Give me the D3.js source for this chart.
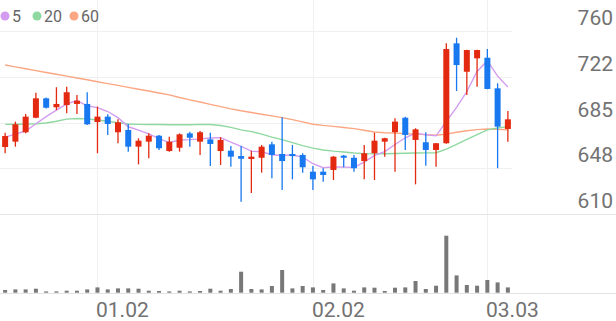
<!DOCTYPE html>
<html>
<head>
<meta charset="utf-8">
<script src="https://cdn.jsdelivr.net/npm/d3@7"></script>
<style>
	html, body { margin: 0; padding: 0; background: #fff; }
	svg { display: block; font-family: Roboto, "Noto Sans", sans-serif; }
</style>
</head>
<body>
<svg id="chart" width="616" height="321"></svg>
<script>
// daily candles, oldest first
var open = [664.9, 669.3, 677.0, 688.9, 704.8, 697.5, 699.3, 700.2, 700.2, 685.4, 689.8, 677.0, 678.9, 665.2, 669.3, 674.2, 661.6, 664.3, 676.1, 669.3, 671.2, 661.6, 661.9, 657.5, 655.1, 656.1, 667.1, 659.2, 659.2, 658.4, 644.7, 644.7, 646.1, 657.8, 656.1, 653.4, 659.8, 669.3, 677.0, 688.9, 670.7, 668.8, 662.5, 668.0, 749.9, 726.6, 737.6, 738.1, 713.0, 679.7];
var high = [676.6, 685.7, 692.0, 709.4, 705.5, 713.9, 714.3, 707.5, 709.8, 698.0, 691.7, 687.6, 683.8, 672.1, 676.1, 674.8, 673.4, 676.1, 677.5, 678.0, 676.6, 672.9, 665.7, 665.7, 661.9, 666.6, 669.3, 689.3, 666.6, 659.8, 649.3, 647.5, 657.5, 658.4, 658.4, 666.6, 676.6, 672.6, 688.4, 689.8, 680.3, 677.0, 668.2, 749.9, 754.5, 744.6, 744.6, 745.2, 717.1, 694.4];
var low = [659.8, 665.2, 676.1, 688.4, 696.5, 695.2, 692.5, 692.0, 683.0, 659.8, 674.8, 668.0, 661.1, 650.7, 655.7, 662.5, 661.1, 661.1, 665.2, 658.4, 649.3, 650.2, 648.8, 620.1, 627.2, 643.9, 639.3, 629.7, 638.4, 643.9, 629.7, 636.5, 637.9, 648.3, 644.7, 638.4, 637.9, 657.0, 644.7, 662.5, 634.3, 649.6, 648.8, 667.5, 710.8, 707.5, 714.3, 712.3, 647.5, 669.3];
var close = [673.9, 683.5, 689.8, 704.8, 697.1, 700.2, 709.8, 702.9, 683.5, 689.8, 683.8, 685.2, 665.2, 670.1, 674.2, 663.9, 669.3, 675.3, 672.5, 677.0, 667.4, 670.7, 657.0, 655.3, 657.0, 665.2, 658.4, 653.4, 657.5, 648.3, 638.4, 642.0, 657.0, 656.1, 647.5, 659.8, 670.1, 672.1, 685.7, 674.8, 679.4, 662.5, 668.0, 745.2, 732.1, 744.4, 744.4, 712.5, 681.6, 687.6];
var volume = [27, 33, 33, 40, 13, 13, 20, 20, 33, 53, 33, 43, 43, 40, 20, 17, 13, 20, 13, 17, 40, 20, 37, 210, 37, 33, 67, 227, 43, 67, 53, 27, 93, 43, 20, 53, 50, 17, 50, 53, 117, 37, 70, 570, 173, 77, 70, 127, 103, 53];

// moving averages as drawn
var ma5 = [673.0, 675.5, 678.0, 684.0, 689.8, 695.1, 700.3, 703.0, 698.7, 697.2, 694.0, 689.0, 681.5, 678.8, 675.7, 671.7, 668.5, 670.6, 671.0, 671.6, 672.3, 672.6, 668.9, 665.5, 661.5, 661.0, 658.6, 657.9, 658.3, 656.6, 651.2, 647.9, 648.6, 648.4, 648.2, 652.5, 658.1, 661.1, 667.0, 672.5, 676.4, 674.9, 674.1, 686.0, 697.4, 710.4, 726.8, 735.7, 723.0, 714.1];
var ma20 = [683.5, 683.6, 683.8, 684.0, 684.6, 686.0, 687.8, 688.3, 688.0, 687.0, 686.0, 684.8, 683.8, 683.5, 683.4, 683.3, 683.2, 683.1, 683.2, 683.5, 683.3, 682.5, 681.0, 679.0, 677.5, 675.5, 673.0, 671.0, 668.5, 666.0, 664.0, 662.5, 661.5, 660.8, 660.0, 659.5, 659.3, 659.4, 659.6, 659.8, 660.0, 660.1, 660.2, 663.2, 667.1, 671.1, 675.1, 679.0, 680.5, 681.6];
var ma60 = [732.1, 730.6, 729.1, 727.5, 726.0, 724.5, 723.0, 721.5, 720.0, 718.4, 716.9, 715.4, 713.8, 712.3, 710.8, 709.2, 707.6, 705.5, 703.6, 701.8, 699.9, 698.0, 696.2, 694.6, 693.2, 691.8, 690.4, 689.0, 687.4, 685.5, 683.6, 682.6, 681.8, 680.9, 680.0, 678.7, 677.2, 676.6, 676.3, 675.9, 675.5, 675.1, 674.6, 675.5, 677.0, 678.2, 679.2, 679.7, 679.4, 679.0];

var maNames = ["5", "20", "60"];
var maColours = ["#d49cf0", "#8fd9a1", "#fba783"];

var yTicks = [760, 722.5, 685, 647.5, 610];
var yTickLabels = ["760", "722", "685", "648", "610"];
var xTickIdx = [9, 30, 47];
var xTickLabels = ["01.02", "02.02", "03.03"];

var upColour = "#e3290f";
var downColour = "#1878ef";

var svg = d3.select("#chart");
var W = 616, H = 321;
var plotRight = 512;

var idx = d3.range(close.length);

var x = d3.scaleBand()
	.domain(idx)
	.range([0, 513])
	.padding(0);

var cx = function(i) { return x(i) + x.bandwidth() / 2; };

var y = d3.scaleLinear()
	.domain([610, 760])
	.range([214, 31]);

var yv = d3.scaleLinear()
	.domain([0, d3.max(volume)])
	.range([292.7, 235.7]);

// grid
var grid = svg.append("g");

grid.selectAll(".vgrid")
	.data(xTickIdx)
	.enter().append("line")
	.attr("x1", function(d) { return Math.round(cx(d)) + 0.5; })
	.attr("x2", function(d) { return Math.round(cx(d)) + 0.5; })
	.attr("y1", 0)
	.attr("y2", 293)
	.attr("stroke", "#f0f0f0")
	.attr("stroke-width", 1);

grid.selectAll(".hgrid")
	.data(yTicks.slice(0, 4))
	.enter().append("line")
	.attr("x1", 0)
	.attr("x2", plotRight)
	.attr("y1", function(d) { return Math.round(y(d)) + 0.5; })
	.attr("y2", function(d) { return Math.round(y(d)) + 0.5; })
	.attr("stroke", "#f0f0f0")
	.attr("stroke-width", 1);

grid.append("line")
	.attr("x1", 0).attr("x2", W)
	.attr("y1", Math.round(y(610)) + 0.5).attr("y2", Math.round(y(610)) + 0.5)
	.attr("stroke", "#e6e6e6");

grid.append("line")
	.attr("x1", 0).attr("x2", W)
	.attr("y1", 293.5).attr("y2", 293.5)
	.attr("stroke", "#e3e3e3");

// y labels
svg.append("g").selectAll("text")
	.data(yTicks)
	.enter().append("text")
	.attr("x", 613)
	.attr("y", function(d) { return y(d) - 6; })
	.attr("text-anchor", "end")
	.attr("font-size", "21px")
	.attr("fill", "#727272")
	.text(function(d, i) { return yTickLabels[i]; });

// x labels
svg.append("g").selectAll("text")
	.data(xTickIdx)
	.enter().append("text")
	.attr("x", function(d) { return Math.round(cx(d)) - 1; })
	.attr("y", 317)
	.attr("font-size", "21px")
	.attr("fill", "#727272")
	.text(function(d, i) { return xTickLabels[i]; });

// volume
svg.append("g").selectAll("rect")
	.data(idx)
	.enter().append("rect")
	.attr("x", function(i) { return cx(i) - 2; })
	.attr("width", 4)
	.attr("y", function(i) { return yv(volume[i]); })
	.attr("height", function(i) { return yv(0) - yv(volume[i]); })
	.attr("fill", "#787878");

// moving averages
var line = function(arr) {
	return d3.line()
		.x(function(i) { return cx(i); })
		.y(function(i) { return y(arr[i]); })(idx);
};

[ma60, ma20, ma5].forEach(function(arr, k) {
	svg.append("path")
		.attr("d", line(arr))
		.attr("fill", "none")
		.attr("stroke", maColours[2 - k])
		.attr("stroke-width", 1.4);
});

// candles
var candle = svg.append("g").selectAll(".candle")
	.data(idx)
	.enter().append("g")
	.attr("class", "candle");

var colourOf = function(i) { return close[i] >= open[i] ? upColour : downColour; };

candle.append("line")
	.attr("x1", function(i) { return cx(i); })
	.attr("x2", function(i) { return cx(i); })
	.attr("y1", function(i) { return y(high[i]); })
	.attr("y2", function(i) { return y(low[i]); })
	.attr("stroke", colourOf)
	.attr("stroke-width", 1.3);

candle.append("rect")
	.attr("x", function(i) { return cx(i) - 3; })
	.attr("width", 6)
	.attr("y", function(i) { return y(Math.max(open[i], close[i])); })
	.attr("height", function(i) { return Math.max(1, Math.abs(y(open[i]) - y(close[i]))); })
	.attr("fill", colourOf);

// legend
var legend = svg.append("g");
var legendX = [5, 37, 74];

legend.selectAll("circle")
	.data(maNames)
	.enter().append("circle")
	.attr("cx", function(d, i) { return legendX[i]; })
	.attr("cy", 16)
	.attr("r", 4.5)
	.attr("fill", function(d, i) { return maColours[i]; });

legend.selectAll("text")
	.data(maNames)
	.enter().append("text")
	.attr("x", function(d, i) { return legendX[i] + 7; })
	.attr("y", 21.5)
	.attr("font-size", "16px")
	.attr("fill", "#666")
	.text(function(d) { return d; });
</script>
</body>
</html>
